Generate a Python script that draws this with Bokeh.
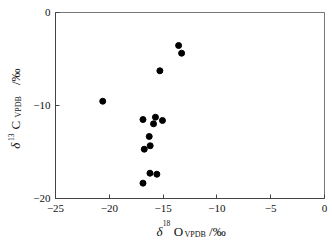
import math
from bokeh.plotting import figure
from bokeh.models import Range1d, Label, FixedTicker
from bokeh.embed import file_html
from bokeh.resources import INLINE

# data (δ18O, δ13C)
d18O = [-13.56, -13.28, -15.30, -20.61, -16.87, -15.71, -15.06,
        -15.89, -16.29, -16.20, -16.75, -16.22, -15.58, -16.87]
d13C = [-3.55, -4.38, -6.27, -9.54, -11.51, -11.26, -11.61,
        -11.97, -13.33, -14.33, -14.70, -17.28, -17.39, -18.35]

x_ticks = [-25, -20, -15, -10, -5, 0]
y_ticks = [-20, -10, 0]
x_tick_labels = ["\u221225", "\u221220", "\u221215", "\u221210", "\u22125", "0"]
y_tick_labels = ["\u221220", "\u221210", "0"]

W, H = 332, 247
L, R, T, B = 52, 8, 12, 49
X0, X1, Y0, Y1 = -25, 0, -20, 0

p = figure(width=W, height=H, output_backend="svg", toolbar_location=None,
           x_range=Range1d(X0, X1), y_range=Range1d(Y0, Y1),
           min_border_left=L, min_border_right=R, min_border_top=T,
           min_border_bottom=B)
p.background_fill_color = "white"
p.border_fill_color = "white"
p.outline_line_color = "#777777"
p.grid.visible = False

FONT = "Liberation Serif"
for ax, ticks, labels in ((p.xaxis[0], x_ticks, x_tick_labels),
                          (p.yaxis[0], y_ticks, y_tick_labels)):
    ax.ticker = FixedTicker(ticks=ticks)
    ax.major_label_overrides = {t: s for t, s in zip(ticks, labels)}
    ax.minor_tick_line_color = None
    ax.major_tick_in = 4
    ax.major_tick_out = 0
    ax.axis_line_color = "#444444"
    ax.major_tick_line_color = "#444444"
    ax.major_label_text_font = FONT
    ax.major_label_text_font_size = "11px"
    ax.major_label_text_color = "#111111"
p.xaxis.major_label_standoff = 6
p.yaxis.major_label_standoff = 5

p.scatter(d18O, d13C, size=6, marker="circle", fill_color="black",
          line_color="black")

FW, FHt = W - L - R, H - T - B


def to_data(cx, cy):
    return (X0 + (cx - L) * (X1 - X0) / FW,
            Y0 + (H - B - cy) * (Y1 - Y0) / FHt)


def piece(side, text, cx, cy, size, italic=False, angle=0.0):
    x, y = to_data(cx, cy)
    p.add_layout(Label(x=x, y=y, text=text, text_font=FONT,
                       text_font_size=size,
                       text_font_style="italic" if italic else "normal",
                       text_color="#111111", text_align="left",
                       text_baseline="alphabetic", angle=angle), side)


NB = "\u00a0"
# x-axis title: δ18 O_VPDB /‰
piece("right", "\u03b4", 154, 231.0, "13px", italic=True)
piece("below", "O" + NB * 8 + "/\u2030", 171.5, 231.0, "13px")
piece("below", "VPDB", 182.5, 233.5, "8px")
piece("below", "18", 160.5, 222.8, "7.5px")

# y-axis title (rotated): δ13 C_VPDB /‰
a = math.pi / 2
piece("above", "\u03b4", 12.0, 148.3, "13px", italic=True, angle=a)
piece("left", "C" + NB * 11 + "/\u2030", 12.0, 129.0, "13px", angle=a)
piece("left", "VPDB", 14.5, 117.0, "8px", angle=a)
piece("left", "13", 6.5, 140.5, "7.5px", angle=a)

open("out.html", "w").write(file_html(p, INLINE))
